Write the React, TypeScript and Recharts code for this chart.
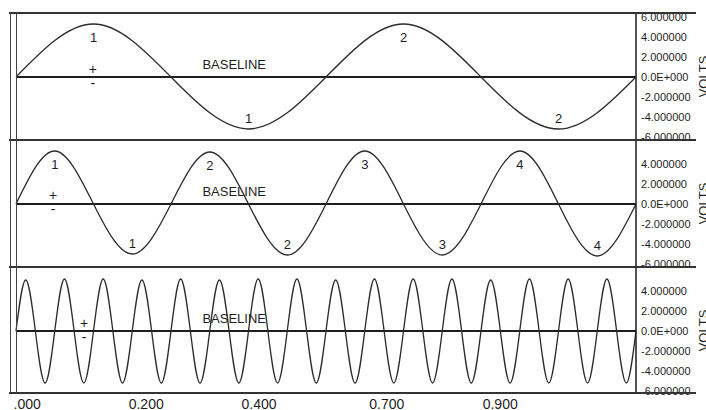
import React from 'react';
import { LineChart, Line, XAxis, YAxis, ReferenceLine, ReferenceDot, LabelList } from 'recharts';

// quarter-period samples (zero, peak, zero, trough, ...)
const topWave = [0, 5.3, 0, -5.2, 0, 5.3, 0, -5.2, 0];
const topMarks = ['', '1', '', '1', '', '2', '', '2', ''];

const middleWave = [
  0, 5.3, 0, -5.0, 0, 5.2, 0, -5.1, 0, 5.3, 0, -5.1, 0, 5.3, 0, -5.2, 0,
];
const middleMarks = ['', '1', '', '1', '', '2', '', '2', '', '3', '', '3', '', '4', '', '4', ''];

const bottomWave = [
  0, 5.1, 0, -5.2, 0, 5.2, 0, -5.2, 0, 5.2, 0, -5.2, 0, 5.1, 0, -5.2,
  0, 5.2, 0, -5.2, 0, 5.1, 0, -5.2, 0, 5.2, 0, -5.2, 0, 5.2, 0, -5.2,
  0, 5.1, 0, -5.2, 0, 5.2, 0, -5.2, 0, 5.2, 0, -5.2, 0, 5.2, 0, -5.2,
  0, 5.1, 0, -5.2, 0, 5.2, 0, -5.2, 0, 5.2, 0, -5.2, 0, 5.2, 0, -5.2, 0,
];

const topTicks = [6, 4, 2, 0, -2, -4, -6];
const lowerTicks = [4, 2, 0, -2, -4, -6];

const xTicks = [0.018, 0.21, 0.392, 0.598, 0.781];
const xTickLabels = ['.000', '0.200', '0.400', '0.700', '0.900'];

// text notes on each panel: [t, volts, text]
const topNotes: [number, number, string][] = [
  [0.352, 1.3, 'BASELINE'],
  [0.124, 0.75, '+'],
  [0.124, -0.65, '-'],
];
const middleNotes: [number, number, string][] = [
  [0.352, 1.3, 'BASELINE'],
  [0.06, 0.85, '+'],
  [0.06, -0.55, '-'],
];
const bottomNotes: [number, number, string][] = [
  [0.352, 1.3, 'BASELINE'],
  [0.11, 0.8, '+'],
  [0.11, -0.6, '-'],
];

const INK = '#1e1e1e';
const FONT = '"Liberation Sans", Arial, sans-serif';
const W = 706;
const PANEL_H = 127;

const toRows = (values: number[], marks?: string[]) =>
  values.map((v, i) => ({ t: i / (values.length - 1), v, mark: marks ? marks[i] : '' }));

const yLabel = (v: number) => (v === 0 ? '0.0E+000' : v.toFixed(6));

const voltsLabel = (props: any) => {
  const vb = props.viewBox || {};
  const x = vb.x + 67;
  const y = vb.y + vb.height / 2;
  return (
    <text
      x={x}
      y={y}
      transform={`rotate(-90 ${x} ${y})`}
      textAnchor="middle"
      dominantBaseline="central"
      fontSize={13}
      fontFamily={FONT}
      fill={INK}
    >
      VOLTS
    </text>
  );
};

const markRenderer = (values: number[]) => (props: any) => {
  const { x, y, value, index } = props;
  if (!value) return null;
  const up = values[index] > 0;
  return (
    <text
      x={x}
      y={up ? y + 13 : y - 11}
      textAnchor="middle"
      dominantBaseline="central"
      fontSize={13}
      fontFamily={FONT}
      fill={INK}
    >
      {value}
    </text>
  );
};

function Panel({ values, marks, ticks, notes, showX }: {
  values: number[];
  marks?: string[];
  ticks: number[];
  notes: [number, number, string][];
  showX?: boolean;
}) {
  const rows = toRows(values, marks);
  return (
    <LineChart
      width={W}
      height={showX ? PANEL_H + 22 : PANEL_H}
      data={rows}
      margin={{ top: 0, right: 0, bottom: 0, left: 16 }}
    >
      <XAxis
        dataKey="t"
        type="number"
        domain={[0, 1]}
        ticks={xTicks}
        hide={!showX}
        height={22}
        axisLine={false}
        tickLine={false}
        tickSize={3}
        tickMargin={2}
        interval={0}
        tickFormatter={(v: number) => xTickLabels[xTicks.indexOf(v)] ?? ''}
        tick={{ fill: INK, fontSize: 14, fontFamily: FONT }}
      />
      <YAxis
        orientation="right"
        type="number"
        domain={[-6.3, 6.4]}
        ticks={ticks}
        interval={0}
        width={70}
        axisLine={{ stroke: INK, strokeWidth: 1.5 }}
        tickLine={false}
        tickSize={3}
        tickMargin={2}
        tickFormatter={yLabel}
        tick={{ fill: INK, fontSize: 11, fontFamily: FONT }}
        label={{ value: 'VOLTS', content: voltsLabel }}
      />
      <ReferenceLine y={0} stroke={INK} strokeWidth={2} />
      <Line
        type="natural"
        dataKey="v"
        stroke="#2b2b2b"
        strokeWidth={1.3}
        dot={false}
        isAnimationActive={false}
      >
        {marks && <LabelList dataKey="mark" content={markRenderer(values)} />}
      </Line>
      {notes.map(([t, v, text], i) => (
        <ReferenceDot
          key={i}
          x={t}
          y={v}
          r={0}
          fill="none"
          stroke="none"
          label={{ value: text, position: 'center', fill: INK, fontSize: text === 'BASELINE' ? 13 : 14, fontFamily: FONT }}
        />
      ))}
    </LineChart>
  );
}

const hRule = (top: number) => (
  <div style={{ position: 'absolute', left: 9, top: top - 1, width: 687, height: 2, background: '#333' }} />
);
const vRule = (left: number) => (
  <div style={{ position: 'absolute', left, top: 13, width: 1, height: 380, background: '#444' }} />
);

export default function App() {
  return (
    <div style={{ position: 'absolute', left: 0, top: 0, width: W, height: 410, background: '#fff', overflow: 'hidden' }}>
      <style>{'.recharts-surface { overflow: visible; }'}</style>
      <div style={{ position: 'absolute', left: 0, top: 13 }}>
        <Panel values={topWave} marks={topMarks} ticks={topTicks} notes={topNotes} />
      </div>
      <div style={{ position: 'absolute', left: 0, top: 140 }}>
        <Panel values={middleWave} marks={middleMarks} ticks={lowerTicks} notes={middleNotes} />
      </div>
      <div style={{ position: 'absolute', left: 0, top: 267 }}>
        <Panel values={bottomWave} ticks={lowerTicks} notes={bottomNotes} showX />
      </div>
      {hRule(13)}
      {hRule(140)}
      {hRule(267)}
      {hRule(393)}
      {vRule(10)}
      {vRule(16)}
    </div>
  );
}
